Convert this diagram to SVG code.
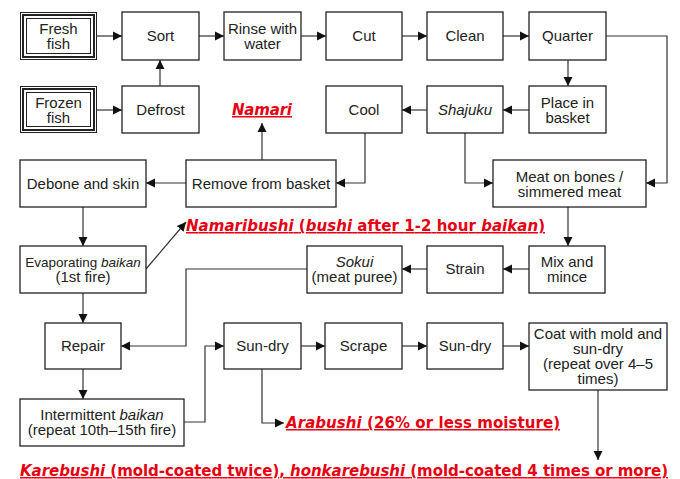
<svg xmlns="http://www.w3.org/2000/svg" width="680" height="479" viewBox="0 0 680 479">
<style>
.b{fill:#fff;stroke:#222;stroke-width:1.3}
.t{font-family:"Liberation Sans",Arial,sans-serif;font-size:15px;fill:#222;text-anchor:middle}
.i{font-style:italic}
.r{font-family:"DejaVu Sans",sans-serif;font-size:15px;font-weight:bold;fill:#e60012;text-decoration:underline}
.c{fill:none;stroke:#333;stroke-width:1.2}
</style>
<defs>
<marker id="a" markerUnits="userSpaceOnUse" markerWidth="10" markerHeight="10" refX="9" refY="5" orient="auto">
<path d="M0,0.5 L9,5 L0,9.5 Z" fill="#111"/>
</marker>
</defs>
<rect width="680" height="479" fill="#fff"/>
<g id="connectors" class="c" marker-end="url(#a)">
<path d="M97,36H122"/>
<path d="M199,36H224"/>
<path d="M301,36H326"/>
<path d="M402,36H427"/>
<path d="M503,36H529"/>
<path d="M606,36H667V183H646"/>
<path d="M568,60V86"/>
<path d="M97,110H122"/>
<path d="M160,86V60"/>
<path d="M529,110H503"/>
<path d="M427,110H402"/>
<path d="M262,160V123"/>
<path d="M365,133V183H336"/>
<path d="M465,133V183H493"/>
<path d="M186,183H146"/>
<path d="M83,207V246"/>
<path d="M146,269L186,222"/>
<path d="M568,207V246"/>
<path d="M529,269H503"/>
<path d="M427,269H402"/>
<path d="M307,269H186V346H121"/>
<path d="M83,293V323"/>
<path d="M83,369V399"/>
<path d="M184,422H205V346H224"/>
<path d="M301,346H325"/>
<path d="M402,346H427"/>
<path d="M503,346H529"/>
<path d="M262,369V423H284"/>
<path d="M598,390V460"/>
</g>
<g id="fresh"><rect x="20.5" y="12.5" width="76" height="47" fill="#fff" stroke="#222" stroke-width="1"/><rect x="23" y="15" width="71" height="42" fill="none" stroke="#222" stroke-width="2"/><rect x="26.5" y="18.5" width="64" height="35" fill="none" stroke="#222" stroke-width="1"/><text class="t" x="58.5" y="34">Fresh<tspan x="58.5" dy="15">fish</tspan></text></g>
<g id="sort"><rect class="b" x="122" y="12" width="77" height="48"/><text class="t" x="160.5" y="41">Sort</text></g>
<g id="rinse"><rect class="b" x="224" y="12" width="77" height="48"/><text class="t" x="262.5" y="34">Rinse with<tspan x="262.5" dy="15">water</tspan></text></g>
<g id="cut"><rect class="b" x="326" y="12" width="76" height="48"/><text class="t" x="364" y="41">Cut</text></g>
<g id="clean"><rect class="b" x="427" y="12" width="76" height="48"/><text class="t" x="465" y="41">Clean</text></g>
<g id="quarter"><rect class="b" x="529" y="12" width="77" height="48"/><text class="t" x="567.5" y="41">Quarter</text></g>
<g id="frozen"><rect x="20.5" y="86.5" width="76" height="46" fill="#fff" stroke="#222" stroke-width="1"/><rect x="23" y="89" width="71" height="41" fill="none" stroke="#222" stroke-width="2"/><rect x="26.5" y="92.5" width="64" height="34" fill="none" stroke="#222" stroke-width="1"/><text class="t" x="58.5" y="108">Frozen<tspan x="58.5" dy="15">fish</tspan></text></g>
<g id="defrost"><rect class="b" x="122" y="86" width="77" height="47"/><text class="t" x="160.5" y="115">Defrost</text></g>
<g id="namari"><text class="r" x="262" y="115" text-anchor="middle" font-style="italic" textLength="60">Namari</text></g>
<g id="cool"><rect class="b" x="326" y="86" width="76" height="47"/><text class="t" x="364" y="115">Cool</text></g>
<g id="shajuku"><rect class="b" x="427" y="86" width="76" height="47"/><text class="t i" x="465" y="115">Shajuku</text></g>
<g id="place"><rect class="b" x="529" y="86" width="77" height="47"/><text class="t" x="567.5" y="108">Place in<tspan x="567.5" dy="15">basket</tspan></text></g>
<g id="debone"><rect class="b" x="20" y="160" width="126" height="47"/><text class="t" x="83" y="189">Debone and skin</text></g>
<g id="remove"><rect class="b" x="186" y="160" width="150" height="47"/><text class="t" x="261" y="189">Remove from basket</text></g>
<g id="meat"><rect class="b" x="493" y="160" width="153" height="47"/><text class="t" x="569.5" y="182">Meat on bones /<tspan x="569.5" dy="15">simmered meat</tspan></text></g>
<g id="namaribushi"><text class="r" x="186" y="231" textLength="359"><tspan font-style="italic">Namaribushi</tspan> (<tspan font-style="italic">bushi</tspan> after 1-2 hour <tspan font-style="italic">baikan</tspan>)</text></g>
<g id="evap"><rect class="b" x="20" y="246" width="126" height="47"/><text class="t" x="83" y="267" style="font-size:13.5px">Evaporating <tspan font-style="italic">baikan</tspan><tspan x="83" dy="15" style="font-size:15px">(1st fire)</tspan></text></g>
<g id="sokui"><rect class="b" x="307" y="246" width="95" height="47"/><text class="t" x="354.5" y="267"><tspan font-style="italic">Sokui</tspan><tspan x="354.5" dy="15">(meat puree)</tspan></text></g>
<g id="strain"><rect class="b" x="427" y="246" width="76" height="47"/><text class="t" x="465" y="274">Strain</text></g>
<g id="mix"><rect class="b" x="529" y="246" width="76" height="47"/><text class="t" x="567" y="267">Mix and<tspan x="567" dy="15">mince</tspan></text></g>
<g id="repair"><rect class="b" x="45" y="323" width="76" height="46"/><text class="t" x="83" y="351">Repair</text></g>
<g id="sundry1"><rect class="b" x="224" y="323" width="77" height="46"/><text class="t" x="262.5" y="351">Sun-dry</text></g>
<g id="scrape"><rect class="b" x="325" y="323" width="77" height="46"/><text class="t" x="363.5" y="351">Scrape</text></g>
<g id="sundry2"><rect class="b" x="427" y="323" width="76" height="46"/><text class="t" x="465" y="351">Sun-dry</text></g>
<g id="coat"><rect class="b" x="529" y="323" width="138" height="67"/><text class="t" x="598" y="339">Coat with mold and<tspan x="598" dy="15">sun-dry</tspan><tspan x="598" dy="15">(repeat over 4–5</tspan><tspan x="598" dy="15">times)</tspan></text></g>
<g id="intermittent"><rect class="b" x="20" y="399" width="164" height="47"/><text class="t" x="102" y="420">Intermittent <tspan font-style="italic">baikan</tspan><tspan x="102" dy="15">(repeat 10th–15th fire)</tspan></text></g>
<g id="arabushi"><text class="r" x="286" y="428" textLength="274"><tspan font-style="italic">Arabushi</tspan> (26% or less moisture)</text></g>
<g id="karebushi"><text class="r" x="20" y="476" textLength="648"><tspan font-style="italic">Karebushi</tspan> (mold-coated twice), <tspan font-style="italic">honkarebushi</tspan> (mold-coated 4 times or more)</text></g>
</svg>
